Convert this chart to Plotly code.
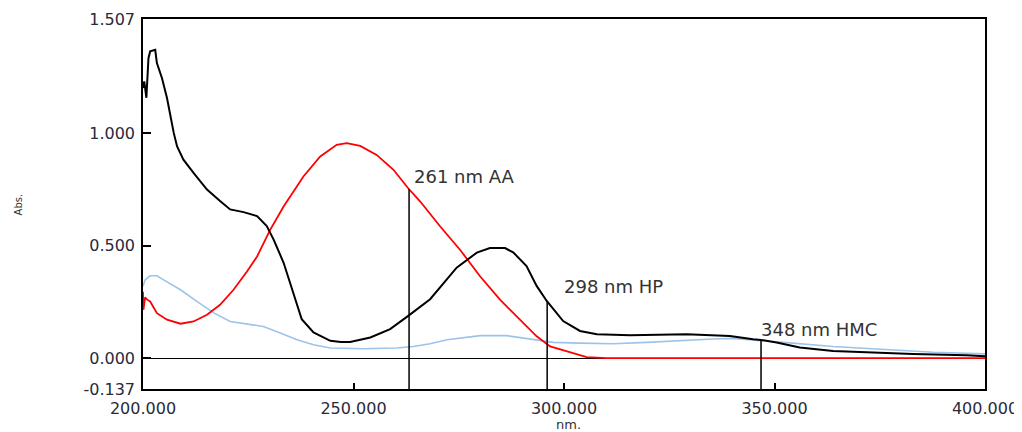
import plotly.graph_objects as go

# Black spectrum
wl_black = [200.0, 200.3, 200.8, 201.3, 201.7, 202.9, 203.3, 204.5, 205.7, 206.5, 207.3, 208.1,
            209.6, 212.0, 215.2, 218.3, 220.7, 223.9, 227.1, 229.4, 231.0, 233.4, 235.7, 237.7,
            240.5, 244.5, 247.0, 249.2, 254.0, 258.7, 263.0, 268.2, 274.5, 279.3, 282.4, 286.0,
            288.0, 291.1, 293.5, 295.9, 299.8, 303.8, 307.8, 315.7, 329.1, 339.4, 344.9, 346.8,
            350.5, 356.0, 363.9, 371.8, 382.9, 395.6, 400.0]
abs_black = [1.20, 1.23, 1.157, 1.333, 1.363, 1.37, 1.311, 1.245, 1.156, 1.074, 1.001, 0.941,
             0.882, 0.823, 0.749, 0.698, 0.661, 0.649, 0.631, 0.587, 0.528, 0.424, 0.291, 0.173,
             0.114, 0.077, 0.072, 0.072, 0.092, 0.129, 0.188, 0.262, 0.402, 0.469, 0.489, 0.489,
             0.469, 0.409, 0.321, 0.254, 0.165, 0.121, 0.106, 0.102, 0.106, 0.099, 0.084, 0.081,
             0.070, 0.047, 0.032, 0.025, 0.018, 0.013, 0.008]

# Red spectrum
wl_red = [200.0, 200.1, 200.5, 201.0, 201.7, 203.3, 205.7, 208.9, 212.0, 215.2, 218.3, 221.5,
          224.7, 227.1, 230.2, 233.4, 238.1, 242.1, 246.0, 248.4, 251.6, 255.5, 259.5, 263.0,
          265.8, 270.6, 275.3, 280.1, 284.8, 289.6, 293.5, 296.7, 300.6, 305.4, 310.1, 400.0]
abs_red = [0.295, 0.215, 0.27, 0.26, 0.252, 0.20, 0.171, 0.153, 0.163, 0.193, 0.237, 0.304,
           0.385, 0.452, 0.570, 0.674, 0.807, 0.896, 0.948, 0.955, 0.943, 0.903, 0.837, 0.755,
           0.697, 0.585, 0.482, 0.363, 0.260, 0.171, 0.097, 0.052, 0.030, 0.005, 0.0, 0.0]

# Light blue spectrum
wl_blue = [200.0, 200.5, 201.7, 203.3, 204.9, 208.9, 212.8, 216.8, 220.7, 224.7, 228.6, 232.6,
           236.6, 240.5, 244.5, 252.4, 260.3, 264.2, 268.2, 272.2, 280.1, 286.4, 292.7, 297.5,
           303.8, 311.7, 319.6, 327.5, 335.4, 340.2, 346.5, 352.1, 363.9, 375.8, 387.7, 400.0]
abs_blue = [0.319, 0.348, 0.366, 0.366, 0.348, 0.304, 0.252, 0.201, 0.163, 0.153, 0.141, 0.112,
            0.082, 0.060, 0.045, 0.042, 0.045, 0.052, 0.064, 0.082, 0.100, 0.100, 0.082, 0.070,
            0.067, 0.064, 0.070, 0.079, 0.085, 0.088, 0.080, 0.070, 0.052, 0.038, 0.026, 0.019]

# Marker lines
marker_nm = [263.2, 296.0, 346.8]
marker_top = [0.752, 0.254, 0.081]
marker_labels = ["261 nm AA", "298 nm HP", "348 nm HMC"]
label_x = [263.9, 299.5, 346.3]
label_y = [0.806, 0.317, 0.127]

x_ticks = [200, 250, 300, 350, 400]
x_ticktext = ["200.000", "250.000", "300.000", "350.000", "400.000"]
y_ticks = [-0.137, 0.0, 0.5, 1.0, 1.507]
y_ticktext = ["-0.137", "0.000", "0.500", "1.000", "1.507"]
y_min, y_max = -0.137, 1.507

fig = go.Figure()
fig.add_trace(go.Scatter(x=wl_blue, y=abs_blue, mode="lines",
                         line=dict(color="#9cc3ea", width=1.6), showlegend=False))
fig.add_trace(go.Scatter(x=wl_red, y=abs_red, mode="lines",
                         line=dict(color="#ff0000", width=1.8), showlegend=False))
fig.add_trace(go.Scatter(x=wl_black, y=abs_black, mode="lines",
                         line=dict(color="#000000", width=2), showlegend=False))

for m, t in zip(marker_nm, marker_top):
    fig.add_trace(go.Scatter(x=[m, m], y=[y_min, t], mode="lines",
                             line=dict(color="#000000", width=1.5), showlegend=False,
                             hoverinfo="skip"))

for lx, ly, txt in zip(label_x, label_y, marker_labels):
    fig.add_annotation(x=lx, y=ly, text=txt, showarrow=False, xanchor="left", yanchor="middle",
                       font=dict(family="DejaVu Sans", size=18, color="#333333"))

fig.add_annotation(xref="paper", yref="paper", x=-0.148, y=0.5, text="Abs.", textangle=-90,
                   showarrow=False, xanchor="center", yanchor="middle",
                   font=dict(family="DejaVu Sans", size=10, color="#333333"))
fig.add_annotation(xref="paper", yref="paper", x=0.505, y=-0.097, text="nm.",
                   showarrow=False, xanchor="center", yanchor="middle",
                   font=dict(family="DejaVu Sans", size=13, color="#333333"))

fig.update_layout(
    width=1014, height=424,
    margin=dict(l=135, r=37, t=11, b=43, pad=0, autoexpand=False),
    paper_bgcolor="white", plot_bgcolor="white",
    xaxis=dict(range=[200, 400], tickvals=x_ticks, ticktext=x_ticktext, automargin=False,
               showgrid=False, zeroline=False, showline=True, mirror=True,
               linecolor="#000000", linewidth=1.5, ticks="inside", ticklen=6,
               tickcolor="#000000", tickwidth=1.5, ticklabelstandoff=4,
               tickfont=dict(family="DejaVu Sans", size=16, color="#2a2a3a")),
    yaxis=dict(range=[y_min, y_max], tickvals=y_ticks, ticktext=y_ticktext, automargin=False,
               showgrid=False, zeroline=True, zerolinecolor="#000000", zerolinewidth=1,
               showline=True, mirror=True,
               linecolor="#000000", linewidth=1.5, ticks="inside", ticklen=8,
               tickcolor="#000000", tickwidth=1.5, ticklabelstandoff=3,
               tickfont=dict(family="DejaVu Sans", size=16, color="#2a2a3a")),
)

fig.write_html("out.html")
